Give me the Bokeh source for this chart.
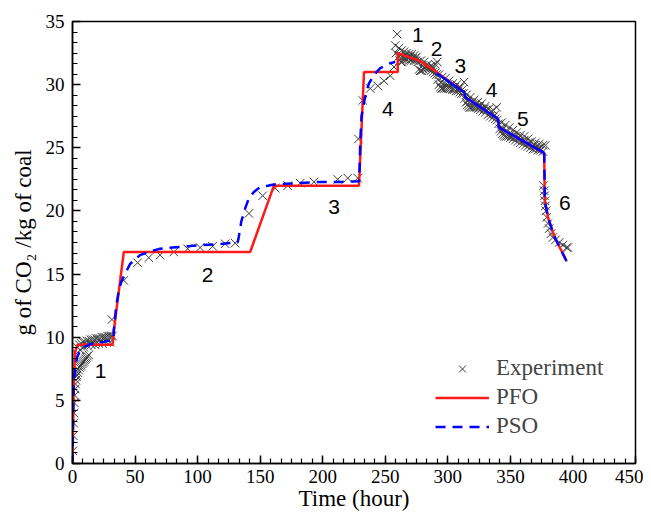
from bokeh.plotting import figure
from bokeh.models import SingleIntervalTicker, Legend, LegendItem, Range1d
from bokeh.core.properties import value
from bokeh.embed import file_html
from bokeh.resources import INLINE

# ---------------- Experiment (adsorption) ----------------
exp1_t = [0.3, 0.6, 0.9, 1.2, 1.5, 1.8, 2.1, 2.4, 2.7, 3.0,
          3.5, 4.2, 4.9, 5.6, 6.3, 7.0, 7.7, 8.4, 9.1, 9.8, 10.5, 11.2, 12.0, 13.0,
          4, 5.5, 7, 8.5, 10, 11.5, 13, 14.5, 16, 17.5, 19, 20.5, 22, 23.5, 25, 26.5, 28, 29.5, 31, 32,
          6, 9, 12, 15, 18, 21, 24, 27, 30, 31.5]
exp1_v = [1.0, 2.2, 3.2, 4.0, 4.8, 5.4, 5.9, 6.3, 6.6, 6.9,
          7.0, 7.2, 7.4, 7.6, 7.7, 7.8, 7.9, 8.0, 8.1, 8.2, 8.3, 8.4, 8.5, 8.6,
          9.2, 9.4, 9.5, 9.6, 9.6, 9.7, 9.7, 9.8, 9.8, 9.8, 9.9, 9.9, 9.9, 10.0, 10.0, 10.0, 10.1, 10.1, 10.1, 10.1,
          9.0, 9.2, 9.3, 9.4, 9.4, 9.5, 9.5, 9.6, 9.6, 11.4]
exp2_t = [41, 52, 61, 70, 81, 92, 102, 112, 122, 130, 141, 152]
exp2_v = [14.5, 15.9, 16.3, 16.5, 16.75, 17.0, 17.1, 17.2, 17.4, 17.45, 19.8, 21.2]
exp3_t = [162, 172, 182, 193, 212, 220, 228]
exp3_v = [21.8, 22.0, 22.2, 22.3, 22.5, 22.6, 22.6]
exp4_t = [228.5, 232, 238, 244, 249, 254, 257, 258, 259.5, 258.5]
exp4_v = [25.7, 28.75, 29.7, 29.9, 30.3, 30.7, 31.4, 33.1, 34.0, 32.5]

# ---------------- Experiment (desorption) ----------------
des1_t = [260.5, 261.5, 262.5, 263.5, 264.5, 265.5, 267, 268.5, 270, 271.5, 273, 274.5, 276,
          261, 263, 265, 267, 269, 271, 273, 275,
          262, 264, 266, 268, 270, 272, 274]
des1_v = [32.2, 31.9, 31.8, 31.8, 31.9, 32.0, 32.0, 32.1, 32.0, 32.0, 31.9, 31.9, 31.8,
          32.9, 32.7, 32.6, 32.5, 32.4, 32.4, 32.3, 32.2,
          32.3, 32.2, 32.3, 32.2, 32.2, 32.1, 32.1]
des2_t = [277, 278, 279, 280.5, 282, 283.5, 285, 286.5, 288, 289.5, 291,
          278.5, 281, 284, 287, 290, 291.5,
          279.5, 282.5, 285.5, 288.5]
des2_v = [31.2, 31.1, 31.1, 31.2, 31.3, 31.3, 31.2, 31.1, 31.0, 30.9, 30.8,
          31.9, 31.8, 31.6, 31.5, 31.6, 31.8,
          31.5, 31.5, 31.4, 31.3]
des3_t = [292, 293, 294, 295, 296, 297.5, 299, 300.5, 302, 303.5, 305, 306.5, 308, 309.5, 311, 312.5,
          293, 295.5, 298, 301, 304, 307, 310, 313,
          294.5, 297, 299.5, 302.5, 305.5, 308.5, 311.5]
des3_v = [30.4, 30.0, 29.8, 29.7, 29.7, 29.7, 29.7, 29.7, 29.7, 29.6, 29.6, 29.5, 29.5, 29.4, 29.3, 29.3,
          30.8, 30.6, 30.5, 30.3, 30.1, 30.0, 29.8, 30.2,
          30.2, 30.1, 30.0, 29.9, 29.8, 29.7, 29.6]
des4_t = [313.5, 314.5, 315.5, 316.5, 317.5, 318.5, 320, 321.5, 323, 324.5, 326, 328, 330, 332, 334, 336, 338, 339.5,
          315, 318, 321, 324, 327, 330, 333, 336, 339,
          316, 319.5, 322.5, 325.5, 329, 331, 335, 337.5]
des4_v = [28.9, 28.6, 28.4, 28.3, 28.2, 28.2, 28.2, 28.2, 28.2, 28.1, 28.0, 27.9, 27.8, 27.6, 27.5, 27.4, 27.3, 27.2,
          29.2, 29.0, 28.8, 28.6, 28.5, 28.3, 28.1, 28.0, 28.2,
          28.7, 28.6, 28.5, 28.3, 28.1, 28.0, 27.8, 27.6]
des5_t = [340.5, 341.5, 342.5, 343.5, 344.5, 345.5, 347, 348.5, 350, 352, 354, 356, 358, 360, 362, 364, 366, 368,
          370, 372, 374, 376, 343, 346, 349, 352, 355, 358, 361, 364, 367, 370, 373, 376, 378,
          344, 347.5, 351, 354.5, 357, 361, 365, 369, 373]
des5_v = [26.9, 26.5, 26.3, 26.1, 26.0, 25.9, 25.9, 25.9, 25.8, 25.7, 25.6, 25.5, 25.4, 25.3, 25.2, 25.1, 25.0, 24.9,
          24.9, 24.8, 24.8, 24.7, 27.0, 26.8, 26.6, 26.4, 26.2, 26.0, 25.9, 25.7, 25.5, 25.4, 25.3, 25.2, 25.2,
          26.5, 26.3, 26.1, 25.9, 25.8, 25.6, 25.4, 25.2, 25.0]
des6_t = [376.5, 377, 377.3, 377.6, 378, 378.4, 379, 380, 381, 382.5, 384, 386, 389, 392, 395, 396]
des6_v = [22.0, 21.6, 21.2, 20.8, 20.4, 20.0, 19.5, 19.0, 18.6, 18.2, 17.9, 17.7, 17.5, 17.3, 17.1, 17.1]

exp_t = exp1_t + exp2_t + exp3_t + exp4_t + des1_t + des2_t + des3_t + des4_t + des5_t + des6_t
exp_v = exp1_v + exp2_v + exp3_v + exp4_v + des1_v + des2_v + des3_v + des4_v + des5_v + des6_v

# ---------------- PFO model ----------------
pfo_t = [0, 0.5, 1, 2, 4, 32, 33, 41, 142, 161, 229, 233, 260, 260, 277, 291, 292, 313, 314, 340, 341,
         377, 377.5, 380, 383, 386, 390, 395]
pfo_v = [0, 3, 6, 8.8, 9.4, 9.4, 10.5, 16.75, 16.75, 22.0, 22.0, 31.0, 31.0, 32.5, 31.9, 31.0, 30.9, 29.4, 29.0,
         27.3, 26.6, 24.6, 20.8, 19.5, 18.6, 17.8, 17.0, 16.0]

# ---------------- PSO model ----------------
pso_t = [0, 0.3, 0.6, 1, 1.5, 2, 3, 4, 6, 9, 13, 17, 21, 26, 31, 32.8,
         33, 34, 35, 37, 39, 42, 46, 54, 62, 70, 80, 92, 105, 120, 132,
         133, 135, 138, 141, 145, 150, 156, 161, 170, 180, 198, 215, 229,
         229.5, 230, 231, 233, 235, 237, 240, 243, 246, 250, 254, 258]
pso_v = [0, 2.5, 4.5, 6.0, 7.0, 7.6, 8.1, 8.5, 8.9, 9.2, 9.4, 9.5, 9.55, 9.65, 9.75, 9.8,
         10.5, 11.5, 12.5, 13.7, 14.4, 15.0, 15.8, 16.5, 16.8, 17.0, 17.1, 17.2, 17.3, 17.4, 17.5,
         18.0, 19.2, 20.2, 21.0, 21.5, 21.9, 22.0, 22.1, 22.15, 22.2, 22.3, 22.3, 22.35,
         23.5, 25.5, 27.5, 28.6, 29.5, 30.1, 30.6, 31.0, 31.3, 31.5, 31.7, 31.8]
pso_des_t = [291, 313, 314, 340, 341, 377]
pso_des_v = [30.9, 29.4, 29.0, 27.3, 26.6, 24.6]
pso_end_t = [377, 377.5, 380, 383, 386, 390, 395]
pso_end_v = [24.6, 20.8, 19.5, 18.6, 17.8, 17.0, 16.0]

# ---------------- stage labels ----------------
stage_text = ["1", "2", "3", "4", "1", "2", "3", "4", "5", "6"]
stage_t = [22.4, 108, 209, 252, 276, 291, 310, 335, 360, 393.6]
stage_v = [7.3, 14.9, 20.3, 28.1, 33.9, 32.8, 31.5, 29.6, 27.3, 20.6]

x_ticks_interval = 50
y_ticks_interval = 5

p = figure(width=643, height=513, output_backend="svg", toolbar_location=None,
           x_range=Range1d(0, 450), y_range=Range1d(0, 35),
           min_border_left=72, min_border_right=8, min_border_top=21, min_border_bottom=49)
p.xgrid.visible = False
p.ygrid.visible = False
p.outline_line_color = "black"
p.outline_line_width = 1.5
p.background_fill_color = "white"
p.border_fill_color = "white"

p.xaxis.ticker = SingleIntervalTicker(interval=x_ticks_interval, num_minor_ticks=6)
p.yaxis.ticker = SingleIntervalTicker(interval=y_ticks_interval, num_minor_ticks=6)

for ax in (p.xaxis[0], p.yaxis[0]):
    ax.axis_line_color = "black"
    ax.axis_line_width = 1.5
    ax.major_tick_line_color = "black"
    ax.minor_tick_line_color = "black"
    ax.major_tick_line_width = 1.5
    ax.minor_tick_line_width = 1.2
    ax.major_tick_out = 0
    ax.minor_tick_out = 0
    ax.major_tick_in = 8
    ax.minor_tick_in = 5
    ax.major_label_text_font = "Liberation Serif"
    ax.major_label_text_font_size = "19px"
    ax.major_label_text_color = "black"
    ax.axis_label_text_font = "Liberation Serif"
    ax.axis_label_text_font_size = "23px"
    ax.axis_label_text_font_style = "normal"
    ax.axis_label_text_color = "black"

p.xaxis.axis_label = "Time (hour)"
p.yaxis.axis_label = "g of CO\u2082 /kg of coal"
p.xaxis.major_label_standoff = 6
p.xaxis.axis_label_standoff = 0
p.yaxis.major_label_standoff = 8
p.yaxis.axis_label_standoff = 7

r_exp = p.scatter(exp_t, exp_v, marker="x", size=12, line_color="#3c3c3c", line_width=1)
r_pfo = p.line(pfo_t, pfo_v, line_color="#ff1a1a", line_width=2.5)
r_pso = p.line(pso_t, pso_v, line_color="#0000ff", line_width=2.5, line_dash="10 7")
p.line(pso_des_t, pso_des_v, line_color="#0000ff", line_width=2.5)
p.line(pso_end_t, pso_end_v, line_color="#0000ff", line_width=2.5, line_dash="10 7")

p.text(x=stage_t, y=stage_v, text=stage_text, text_font=value("Liberation Sans"),
       text_font_size="21px", text_align="center", text_baseline="middle", text_color="black")

legend = Legend(items=[LegendItem(label="Experiment", renderers=[r_exp]),
                       LegendItem(label="PFO", renderers=[r_pfo]),
                       LegendItem(label="PSO", renderers=[r_pso])],
                location=(363, 24))
legend.glyph_width = 54
legend.glyph_height = 25
legend.label_height = 25
legend.spacing = 3
legend.padding = 0
legend.margin = 0
legend.label_standoff = 7
legend.label_text_font = "Liberation Serif"
legend.label_text_font_size = "23px"
legend.border_line_alpha = 0
legend.background_fill_alpha = 0
p.add_layout(legend)

open("out.html", "w").write(file_html(p, INLINE))
